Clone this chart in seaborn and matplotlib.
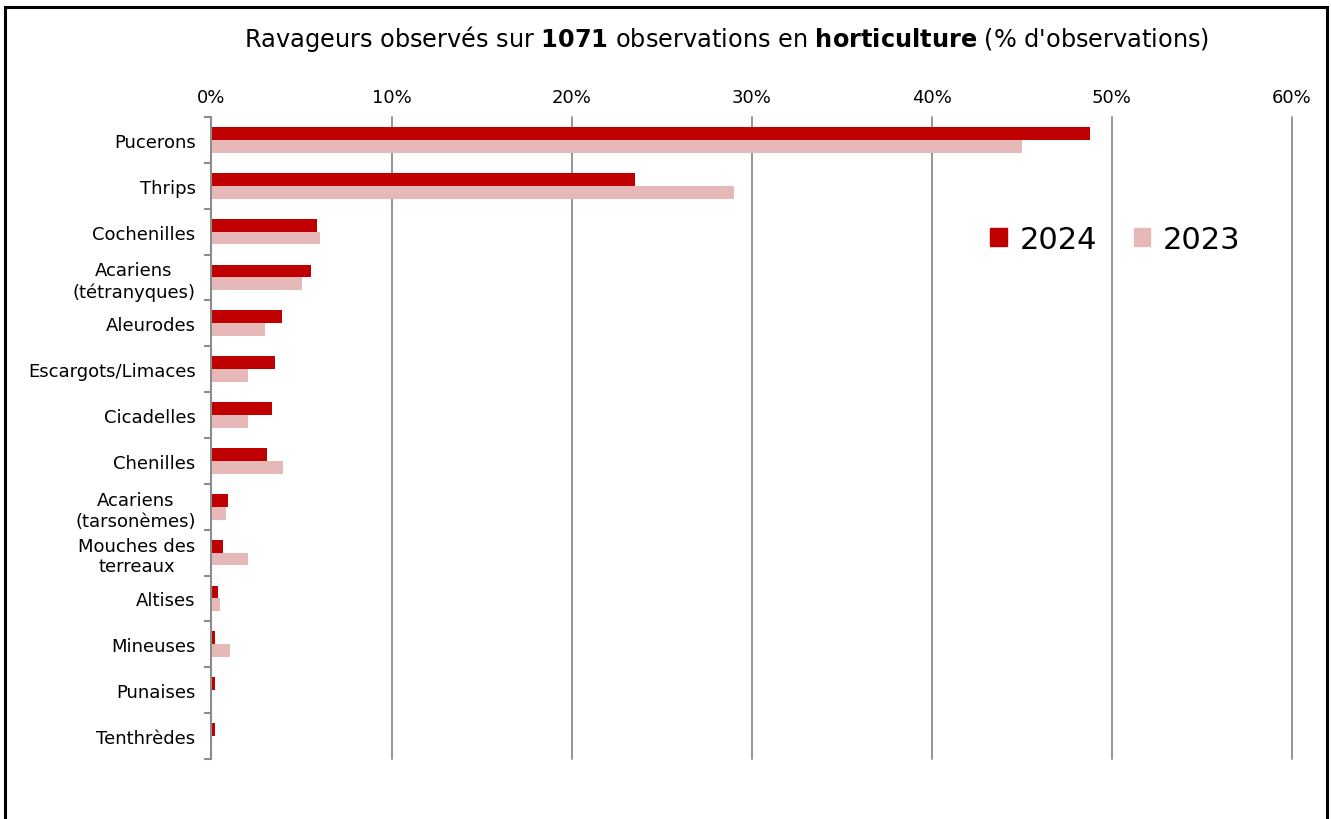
import numpy as np
import pandas as pd
import matplotlib
matplotlib.use("Agg")
import matplotlib.pyplot as plt
from matplotlib.patches import Rectangle
from matplotlib.ticker import PercentFormatter
import seaborn as sns

categories = ["Pucerons", "Thrips", "Cochenilles", "Acariens\n(tétranyques)", "Aleurodes",
              "Escargots/Limaces", "Cicadelles", "Chenilles", "Acariens\n(tarsonèmes)",
              "Mouches des\nterreaux", "Altises", "Mineuses", "Punaises", "Tenthrèdes"]
values_2024 = [48.8, 23.5, 5.85, 5.55, 3.93, 3.55, 3.35, 3.09, 0.94, 0.63, 0.37, 0.2, 0.2, 0.2]
values_2023 = [45.0, 29.0, 6.0, 5.05, 2.96, 2.0, 2.0, 3.98, 0.78, 2.0, 0.48, 1.0, 0.0, 0.0]
years = ["2024", "2023"]
colors = {"2024": "#C00000", "2023": "#E6B9B8"}
x_ticks = [0, 10, 20, 30, 40, 50, 60]

df = pd.DataFrame({
    "cat": categories * 2,
    "val": values_2024 + values_2023,
    "year": ["2024"] * len(categories) + ["2023"] * len(categories),
})

sns.set_theme(style="white")
plt.rcParams["font.family"] = ["DejaVu Sans"]
plt.rcParams["text.color"] = "black"
plt.rcParams["xtick.color"] = "black"
plt.rcParams["ytick.color"] = "black"

fig = plt.figure(figsize=(13.31, 8.20), dpi=100)
ax = fig.add_axes([0.1589, 0.0732, 0.8118, 0.7830])

sns.barplot(data=df, y="cat", x="val", hue="year", hue_order=years, order=categories,
            palette=colors, orient="h", width=0.56, saturation=1, linewidth=0,
            ax=ax, legend=False)

ax.set_xlim(0, 60)
ax.set_ylim(len(categories) - 0.5, -0.5)
ax.set_xticks(x_ticks)
ax.xaxis.set_major_formatter(PercentFormatter(decimals=0))
ax.xaxis.tick_top()
ax.tick_params(axis="x", length=0, labelsize=13, pad=8, labelcolor="black")
ax.tick_params(axis="y", which="major", length=0, labelsize=13, pad=11.5, labelcolor="black")
ax.set_yticks(np.arange(-0.5, len(categories), 1), minor=True)
ax.tick_params(axis="y", which="minor", length=5, width=1.5, color="#8c8c8c", direction="out", left=True)
for lab in ax.get_yticklabels():
    lab.set_multialignment("center")
ax.set_xlabel("")
ax.set_ylabel("")
ax.grid(axis="x", color="#8c8c8c", linewidth=1.3)
for gl in ax.get_xgridlines():
    gl.set_clip_on(False)
ax.set_axisbelow(True)
for s in ["top", "right", "bottom"]:
    ax.spines[s].set_visible(False)
ax.spines["left"].set_color("#8c8c8c")
ax.spines["left"].set_linewidth(1.5)

handles = [Rectangle((0, 0), 1, 1, color=colors[y]) for y in years]
fig.legend(handles, years, ncol=2, frameon=False, fontsize=22, labelcolor="black",
           loc="center", bbox_to_anchor=(0.838, 0.707),
           handlelength=0.55, handleheight=0.55, handletextpad=0.4, columnspacing=1.2)

fig.text(0.546, 0.953,
         r"Ravageurs observés sur $\mathbf{1071}$ observations en $\mathbf{horticulture}$ (% d'observations)",
         ha="center", va="center", fontsize=17.3, color="black")

fig.patches.append(Rectangle((0.004, -0.03), 0.993, 1.02, transform=fig.transFigure,
                             fill=False, edgecolor="black", linewidth=2.2))

fig.savefig("out.png", dpi=100, facecolor="white")
